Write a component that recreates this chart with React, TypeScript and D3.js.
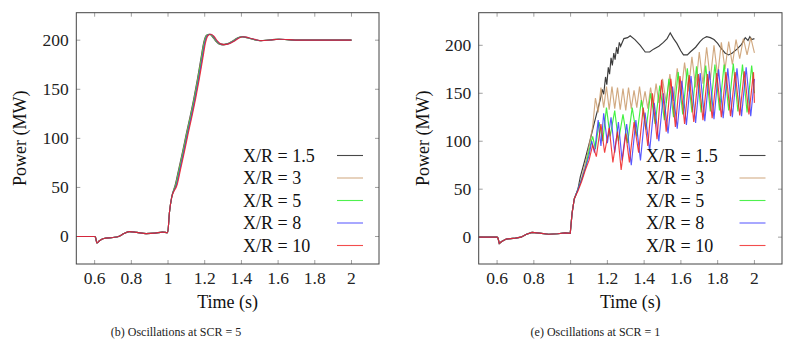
import React from 'react';
import * as d3 from 'd3';

// ---- data ----
const xTicks = [0.6, 0.8, 1, 1.2, 1.4, 1.6, 1.8, 2];
const yTicks = [0, 50, 100, 150, 200];
const seriesNames = ['X/R = 1.5', 'X/R = 3', 'X/R = 5', 'X/R = 8', 'X/R = 10'];
const seriesColors = ['#1a1a1a', '#c99a6a', '#22ee22', '#3b3bff', '#f02020'];

// common pre-step segment (both panels)
const preT = [0.5, 0.6, 0.605, 0.612, 0.625, 0.65, 0.7, 0.73, 0.76, 0.79, 0.83, 0.88, 0.93, 0.97, 0.998, 1.008, 1.02];
const preV = [0, 0, -1, -6.5, -4.5, -2, -1, 0, 3, 5, 4.2, 3, 3.5, 4.5, 4, 25, 40];

// SCR = 5 (all curves nearly identical, small lag per X/R)
const leftT = [1.04, 1.06, 1.08, 1.1, 1.12, 1.14, 1.16, 1.18, 1.195, 1.21, 1.225, 1.24, 1.26, 1.28, 1.3, 1.32, 1.35, 1.38, 1.4, 1.43, 1.47, 1.5, 1.55, 1.6, 1.65, 1.7, 1.8, 1.9, 2.0];
const leftV = [53, 70, 87, 105, 122, 140, 160, 182, 198, 205, 206, 204, 199, 196, 195.5, 196.2, 199, 202.5, 203.5, 202.5, 200.5, 199.5, 200.2, 201, 200.5, 200, 200, 200, 200];
const leftLag = [0, 0.002, 0.004, 0.007, 0.01];

// SCR = 1
const blackT = [1.04, 1.053, 1.08, 1.107, 1.13, 1.161, 1.172, 1.18, 1.19, 1.197, 1.205, 1.212, 1.22, 1.227, 1.235, 1.242, 1.25, 1.257, 1.265, 1.272, 1.29, 1.31, 1.324, 1.35, 1.379, 1.406, 1.43, 1.451, 1.48, 1.505, 1.525, 1.542, 1.56, 1.578, 1.6, 1.614, 1.635, 1.651, 1.68, 1.705, 1.72, 1.74, 1.76, 1.78, 1.8, 1.814, 1.84, 1.859, 1.88, 1.905, 1.93, 1.95, 1.965, 1.975, 1.985, 2.0];
const blackV = [50, 63, 82, 102, 120, 143, 154, 149, 167, 159, 177, 170, 187, 179, 192, 185, 198, 191, 203, 199, 207, 208, 210, 206, 200, 193, 193, 196, 199, 203, 207, 213, 207, 202, 194, 190, 190, 193, 198, 204, 207, 209, 208, 206, 202, 198, 192, 190, 192, 196, 201, 208, 205, 209, 206, 207];

const tanT = [1.04, 1.06, 1.09, 1.12, 1.135, 1.15, 1.165, 1.18, 1.195, 1.21, 1.225, 1.24, 1.255, 1.27, 1.285, 1.3, 1.315, 1.33, 1.345, 1.36, 1.375, 1.39, 1.405, 1.42, 1.435, 1.45, 1.465, 1.48, 1.5, 1.52, 1.54, 1.56, 1.58, 1.6, 1.62, 1.64, 1.66, 1.68, 1.7, 1.72, 1.74, 1.76, 1.78, 1.8, 1.82, 1.84, 1.86, 1.88, 1.9, 1.92, 1.94, 1.96, 1.98, 2.0];
const tanV = [50, 62, 85, 115, 145, 130, 156, 135, 157, 133, 157, 134, 156, 133, 155, 132, 156, 134, 153, 135, 157, 136, 152, 134, 156, 138, 160, 140, 165, 140, 170, 142, 176, 148, 182, 152, 188, 156, 193, 160, 198, 164, 200, 168, 203, 175, 204, 180, 206, 186, 207, 190, 208, 192];

const greenT = [1.04, 1.06, 1.08, 1.1, 1.12, 1.135, 1.155, 1.175, 1.195, 1.215, 1.24, 1.26, 1.285, 1.31, 1.335, 1.36, 1.385, 1.41, 1.435, 1.46, 1.485, 1.51, 1.535, 1.56, 1.585, 1.61, 1.635, 1.66, 1.685, 1.71, 1.735, 1.76, 1.785, 1.81, 1.835, 1.86, 1.885, 1.91, 1.935, 1.96, 1.985, 2.0];
const greenV = [50, 60, 72, 90, 105, 92, 120, 100, 135, 105, 132, 100, 128, 98, 135, 105, 143, 112, 150, 118, 158, 122, 165, 125, 172, 128, 176, 130, 178, 130, 179, 131, 180, 132, 180, 132, 181, 131, 180, 130, 179, 150];

const blueT = [1.04, 1.06, 1.08, 1.1, 1.115, 1.13, 1.15, 1.165, 1.18, 1.2, 1.22, 1.24, 1.26, 1.28, 1.305, 1.33, 1.355, 1.38, 1.405, 1.43, 1.455, 1.48, 1.505, 1.53, 1.555, 1.58, 1.605, 1.63, 1.655, 1.68, 1.705, 1.73, 1.755, 1.78, 1.805, 1.83, 1.855, 1.88, 1.905, 1.93, 1.955, 1.98, 2.0];
const blueV = [50, 60, 72, 85, 100, 88, 122, 95, 129, 98, 125, 88, 120, 80, 118, 75, 122, 80, 130, 90, 140, 100, 150, 108, 157, 113, 163, 117, 168, 119, 171, 121, 173, 123, 175, 124, 176, 125, 176, 126, 177, 126, 165];

const redT = [1.04, 1.06, 1.08, 1.1, 1.12, 1.14, 1.165, 1.185, 1.21, 1.23, 1.255, 1.275, 1.3, 1.32, 1.345, 1.37, 1.395, 1.42, 1.445, 1.47, 1.495, 1.52, 1.545, 1.57, 1.595, 1.62, 1.645, 1.67, 1.695, 1.72, 1.745, 1.77, 1.795, 1.82, 1.845, 1.87, 1.895, 1.92, 1.945, 1.97, 1.995, 2.0];
const redV = [48, 58, 70, 80, 96, 84, 118, 88, 114, 78, 110, 70, 108, 78, 120, 88, 135, 95, 150, 102, 164, 110, 165, 115, 168, 118, 169, 120, 170, 122, 170, 124, 171, 125, 172, 126, 172, 127, 173, 128, 172, 140];

type Pt = [number, number];
const zip = (t: number[], v: number[]): Pt[] => t.map((d, i) => [d, v[i]]);

const leftSeries: Pt[][] = leftLag.map(lag =>
  zip(preT, preV).concat(
    zip(leftT, leftV).map(([t, v]) => [t < 1.75 ? t + lag : t, v] as Pt)
  )
);

const rightSeries: Pt[][] = [
  [blackT, blackV], [tanT, tanV], [greenT, greenV], [blueT, blueV], [redT, redV],
].map(([t, v]) => zip(preT, preV).concat(zip(t, v)));

const serif = '"Liberation Serif", "Times New Roman", serif';

interface PanelProps {
  series: Pt[][];
  left: number;
  right: number;
  yMax: number;
  yLabelX: number;
  legendX: number;
  lineX: number;
  caption: string;
  captionX: number;
  smooth: boolean;
}

const Panel = ({ series, left, right, yMax, yLabelX, legendX, lineX, caption, captionX, smooth }: PanelProps) => {
  const top = 12.7;
  const bottom = 264;
  const x = d3.scaleLinear().domain([0.5, 2.15]).range([left, right]);
  const y = d3.scaleLinear().domain([-28, yMax]).range([bottom, top]);
  const line = d3.line<Pt>()
    .x(d => x(d[0]))
    .y(d => y(d[1]))
    .curve(smooth ? d3.curveMonotoneX : d3.curveLinear);
  const tickLen = 4;
  const tickColor = '#a0a0a0';
  const rowY = [155.5, 178, 200.5, 223, 245.5];

  return (
    <g>
      <defs>
        <clipPath id={`clip-${left}`}>
          <rect x={left} y={top} width={right - left} height={bottom - top} />
        </clipPath>
      </defs>
      {/* tick marks, inside on all four sides */}
      {xTicks.map(t => (
        <g key={`xt${t}`} stroke={tickColor} strokeWidth={1}>
          <line x1={x(t)} x2={x(t)} y1={bottom} y2={bottom - tickLen} />
          <line x1={x(t)} x2={x(t)} y1={top} y2={top + tickLen} />
        </g>
      ))}
      {yTicks.map(v => (
        <g key={`yt${v}`} stroke={tickColor} strokeWidth={1}>
          <line x1={left} x2={left + tickLen} y1={y(v)} y2={y(v)} />
          <line x1={right} x2={right - tickLen} y1={y(v)} y2={y(v)} />
        </g>
      ))}
      {/* curves */}
      <g clipPath={`url(#clip-${left})`} fill="none">
        {series.map((s, i) => (
          <path key={i} d={line(s) || ''} stroke={seriesColors[i]} strokeWidth={1.15} strokeOpacity={0.85} />
        ))}
      </g>
      {/* frame */}
      <rect x={left} y={top} width={right - left} height={bottom - top} fill="none" stroke="#444" strokeWidth={1} />
      {/* tick labels */}
      {xTicks.map(t => (
        <text key={`xl${t}`} x={x(t)} y={283.5} textAnchor="middle" fontFamily={serif} fontSize={17.5} fill="#222">
          {String(t)}
        </text>
      ))}
      {yTicks.map(v => (
        <text key={`yl${v}`} x={left - 7.5} y={y(v)} dy="0.33em" textAnchor="end" fontFamily={serif} fontSize={17.5} fill="#222">
          {v}
        </text>
      ))}
      {/* axis labels */}
      <text x={(left + right) / 2} y={308} textAnchor="middle" fontFamily={serif} fontSize={18} fill="#111">Time (s)</text>
      <text transform={`translate(${yLabelX},${(top + bottom) / 2}) rotate(-90)`} dy="0.33em" textAnchor="middle" fontFamily={serif} fontSize={18} fill="#111">Power (MW)</text>
      {/* legend */}
      {seriesNames.map((name, i) => (
        <g key={name}>
          <text x={legendX} y={rowY[i]} dy="0.34em" fontFamily={serif} fontSize={18} fill="#111">{name}</text>
          <line x1={lineX} x2={lineX + 26} y1={rowY[i]} y2={rowY[i]} stroke={seriesColors[i]} strokeWidth={1.1} strokeOpacity={0.8} />
        </g>
      ))}
      <text x={captionX} y={336} textAnchor="middle" fontFamily={serif} fontSize={12} fill="#222">{caption}</text>
    </g>
  );
};

export default function App() {
  return (
    <svg width={800} height={351} style={{ position: 'absolute', left: 0, top: 0, background: '#fff' }}>
      <rect width={800} height={351} fill="#fff" />
      <Panel series={leftSeries} left={76.3} right={379} yMax={228} yLabelX={20} legendX={243} lineX={337}
        caption="(b) Oscillations at SCR = 5" captionX={176} smooth={true} />
      <Panel series={rightSeries} left={478.7} right={782} yMax={234} yLabelX={423.3} legendX={646} lineX={739.5}
        caption="(e) Oscillations at SCR = 1" captionX={595.5} smooth={false} />
    </svg>
  );
}
